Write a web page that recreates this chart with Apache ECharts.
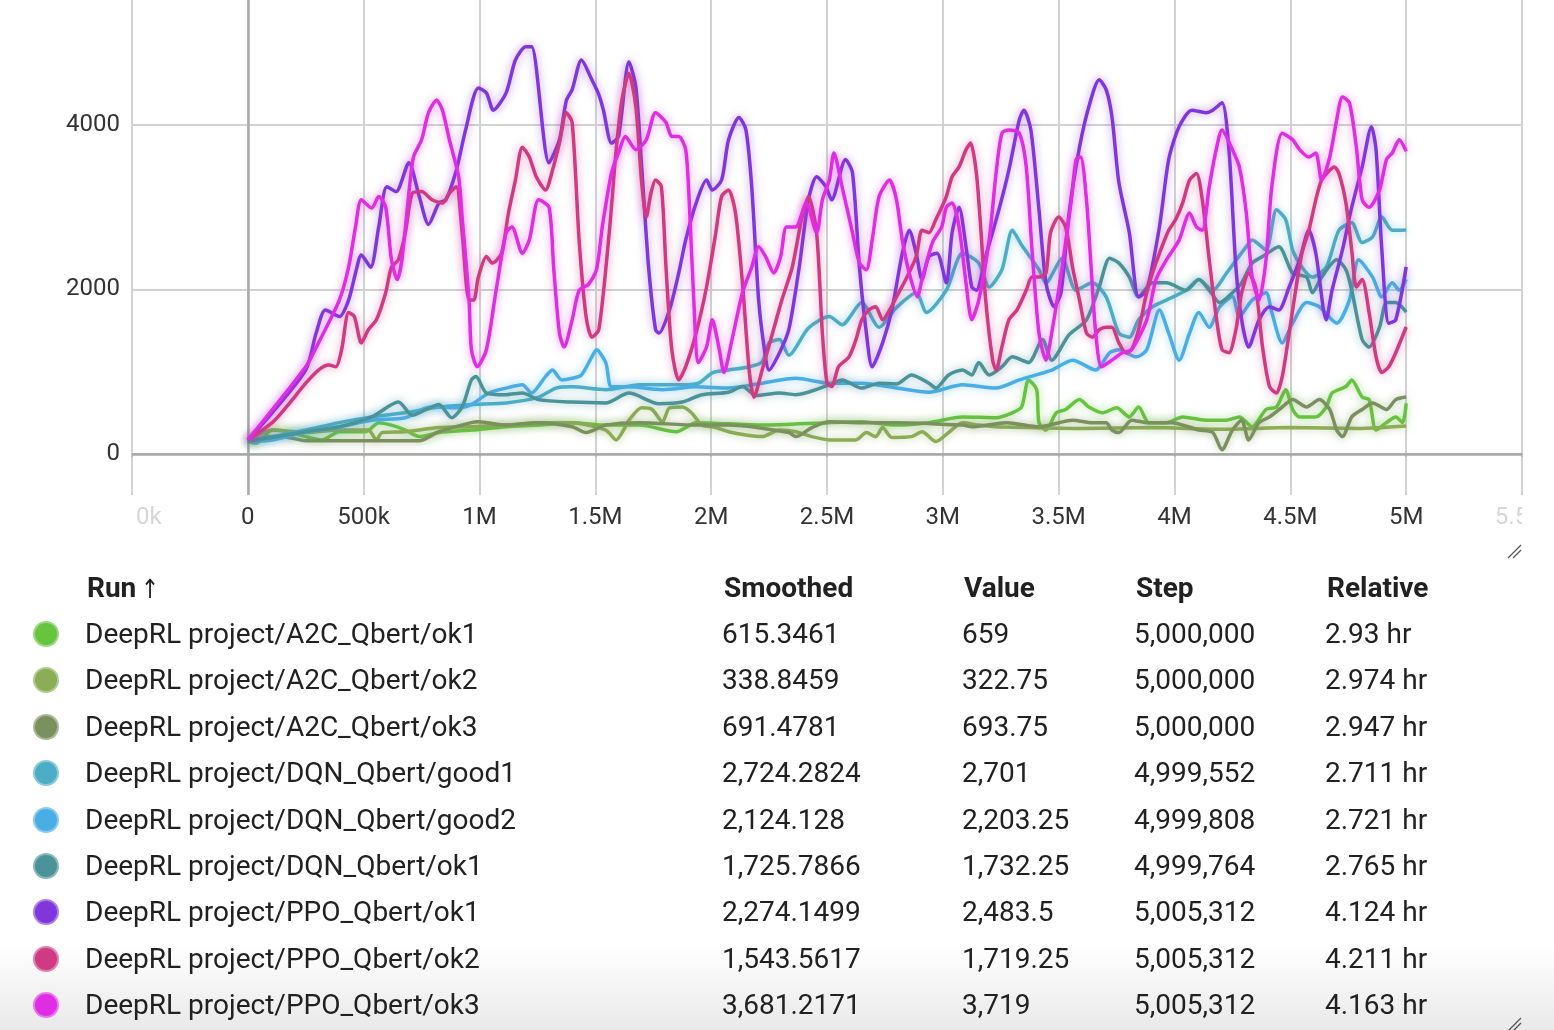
<!DOCTYPE html>
<html>
<head>
<meta charset="utf-8">
<script src="https://cdn.jsdelivr.net/npm/echarts@6/dist/echarts.min.js"></script>
<style>
html, body { margin: 0; padding: 0; }
body {
	width: 1554px; height: 1030px; position: relative; overflow: hidden;
	font-family: Roboto, 'Noto Sans', sans-serif; color: #212121;
	background: linear-gradient(to bottom, #fff 0px, #fff 945px, #e9e9e9 1030px);
}
#chart { position: absolute; left: 0; top: 0; width: 1554px; height: 1030px; }
#runs { position: absolute; left: 0; top: 0; width: 1554px; height: 1030px; }
.cell { position: absolute; font-size: 28px; line-height: 36px; white-space: nowrap; }
.hd { font-weight: 700; }
.arrow { display: inline-block; font-family: 'DejaVu Sans', sans-serif; font-size: 24px; font-weight: 400; margin-left: 4px; transform: scale(0.9, 1.1); }
.dot { position: absolute; width: 26px; height: 26px; border-radius: 50%; box-sizing: border-box; border: 2px solid rgba(255,255,255,0.35); }
</style>
</head>
<body>
<div id="chart"></div>
<div id="runs"></div>
<script>
// runs, in table order
var runNames = [
	'DeepRL project/A2C_Qbert/ok1',
	'DeepRL project/A2C_Qbert/ok2',
	'DeepRL project/A2C_Qbert/ok3',
	'DeepRL project/DQN_Qbert/good1',
	'DeepRL project/DQN_Qbert/good2',
	'DeepRL project/DQN_Qbert/ok1',
	'DeepRL project/PPO_Qbert/ok1',
	'DeepRL project/PPO_Qbert/ok2',
	'DeepRL project/PPO_Qbert/ok3'
];
var smoothedCol = ['615.3461', '338.8459', '691.4781', '2,724.2824', '2,124.128', '1,725.7866', '2,274.1499', '1,543.5617', '3,681.2171'];
var valueCol = ['659', '322.75', '693.75', '2,701', '2,203.25', '1,732.25', '2,483.5', '1,719.25', '3,719'];
var stepCol = ['5,000,000', '5,000,000', '5,000,000', '4,999,552', '4,999,808', '4,999,764', '5,005,312', '5,005,312', '5,005,312'];
var relativeCol = ['2.93 hr', '2.974 hr', '2.947 hr', '2.711 hr', '2.721 hr', '2.765 hr', '4.124 hr', '4.211 hr', '4.163 hr'];

var runColors = ['#66c43f', '#8aad55', '#7a915e', '#4caec6', '#4aaee6', '#4a9399', '#8136dc', '#cf3a82', '#e02de3'];

var xTicks = [-500, 5500, 500];   // min, max, step (k steps)
var yGrid = [0, 2000, 4000];

// [step in thousands, smoothed value]
var a2cOk1 = [[0,150],[35,130],[105,290],[175,270],[250,210],[320,170],[395,270],[510,270],[565,380],[620,350],[680,290],[740,210],[825,260],[965,290],[1115,330],[1255,350],[1400,380],[1545,350],[1690,350],[1850,270],[1935,380],[2220,350],[2510,380],[2650,390],[2800,350],[2940,380],[3085,450],[3230,440],[3300,500],[3340,570],[3370,900],[3405,780],[3415,380],[3445,290],[3490,500],[3530,540],[3590,660],[3630,570],[3690,500],[3750,560],[3805,450],[3845,570],[3890,380],[3965,380],[4035,450],[4135,410],[4225,410],[4280,450],[4335,330],[4395,540],[4440,570],[4480,780],[4510,540],[4540,450],[4610,450],[4655,570],[4680,740],[4740,820],[4765,900],[4810,690],[4840,660],[4870,290],[4915,380],[4955,450],[4985,380],[5000,615]];
var a2cOk2 = [[0,150],[105,290],[250,260],[395,290],[520,290],[555,170],[580,260],[680,270],[825,320],[965,330],[1115,350],[1255,380],[1400,380],[1545,290],[1590,170],[1630,330],[1645,410],[1700,560],[1745,540],[1790,390],[1820,560],[1875,570],[1915,500],[1960,350],[2020,320],[2075,270],[2150,230],[2220,210],[2295,290],[2365,270],[2435,210],[2510,170],[2625,170],[2670,260],[2710,210],[2740,320],[2780,200],[2865,210],[2910,270],[2970,150],[3025,260],[3085,380],[3155,350],[3230,330],[3370,320],[3600,310],[3900,320],[4200,300],[4500,320],[4800,310],[5000,339]];
var a2cOk3 = [[0,150],[105,210],[175,200],[250,160],[400,160],[540,160],[740,160],[825,270],[965,380],[995,390],[1115,350],[1255,380],[1400,330],[1460,260],[1545,350],[1690,380],[1935,350],[2075,350],[2335,260],[2365,210],[2435,320],[2510,390],[2650,380],[2800,380],[3085,350],[3125,330],[3275,380],[3415,330],[3560,410],[3645,380],[3705,380],[3730,290],[3760,260],[3815,410],[3880,380],[3990,380],[4105,290],[4165,260],[4205,50],[4250,290],[4290,410],[4320,170],[4365,380],[4410,450],[4465,570],[4510,660],[4570,570],[4625,660],[4670,540],[4700,290],[4725,210],[4765,450],[4810,540],[4855,620],[4915,540],[4955,660],[5000,691]];
var dqnGood1 = [[0,150],[105,210],[250,290],[395,380],[535,450],[680,500],[825,570],[965,600],[1115,620],[1255,690],[1330,800],[1400,815],[1545,780],[1690,840],[1860,840],[1945,860],[2005,985],[2075,1020],[2165,1060],[2220,1120],[2250,1350],[2295,1390],[2335,1200],[2420,1530],[2510,1670],[2565,1570],[2650,1840],[2725,1540],[2800,1780],[2885,1960],[2930,1720],[3015,1990],[3085,2440],[3155,2320],[3200,2030],[3255,2240],[3300,2720],[3340,2540],[3415,2240],[3445,2080],[3515,2380],[3575,1990],[3645,2080],[3705,1910],[3760,1470],[3805,1420],[3845,1630],[3905,1790],[3965,1870],[4050,1990],[4105,2120],[4165,1990],[4225,2200],[4310,2520],[4335,2600],[4395,2480],[4440,2970],[4480,2850],[4510,2480],[4550,2270],[4595,2150],[4655,2270],[4710,2720],[4765,2810],[4810,2570],[4855,2640],[4895,2880],[4940,2720],[5000,2724]];
var dqnGood2 = [[0,150],[105,170],[250,270],[395,330],[535,410],[680,440],[770,560],[825,570],[900,560],[965,600],[1040,740],[1115,800],[1185,840],[1225,740],[1285,940],[1315,1020],[1355,900],[1400,920],[1440,960],[1485,1180],[1505,1265],[1545,1110],[1570,815],[1645,815],[1790,780],[1935,815],[2075,800],[2220,860],[2365,920],[2510,860],[2650,860],[2800,800],[2940,750],[3085,840],[3230,800],[3330,900],[3470,1020],[3560,1140],[3660,1020],[3720,1230],[3760,1265],[3835,1180],[3880,1265],[3935,1750],[3975,1470],[4020,1140],[4065,1470],[4105,1720],[4150,1540],[4195,1790],[4250,1910],[4280,1670],[4335,1870],[4395,1960],[4420,1720],[4465,1350],[4510,1590],[4570,1840],[4625,1790],[4700,1590],[4755,1870],[4795,2360],[4855,2150],[4895,1910],[4940,2080],[4970,1990],[5000,2124]];
var dqnOk1 = [[0,150],[250,270],[395,330],[535,450],[650,630],[710,470],[770,540],[825,600],[880,440],[925,570],[965,900],[985,940],[1030,740],[1115,720],[1185,740],[1255,660],[1400,630],[1545,620],[1645,740],[1775,610],[1875,630],[1960,720],[2075,750],[2135,820],[2195,710],[2295,740],[2365,720],[2510,840],[2565,900],[2650,800],[2725,860],[2800,850],[2865,960],[2940,860],[2970,800],[3025,960],[3085,1020],[3125,960],[3155,1110],[3200,960],[3255,1060],[3300,1180],[3370,1110],[3430,1390],[3470,1140],[3545,1450],[3620,1630],[3675,2030],[3720,2380],[3760,2320],[3805,2150],[3845,1910],[3905,2080],[3965,2080],[4050,1990],[4105,2120],[4150,1990],[4195,1840],[4250,1960],[4290,2080],[4335,2320],[4380,2400],[4450,2520],[4510,2200],[4570,2150],[4595,1960],[4635,2150],[4700,2360],[4740,2240],[4765,1990],[4810,1390],[4840,1300],[4885,1540],[4915,1840],[4955,1840],[5000,1726]];
var ppoOk1 = [[0,170],[105,500],[250,1020],[295,1470],[335,1750],[395,1670],[435,1870],[465,2200],[490,2420],[530,2270],[565,2760],[600,3250],[640,3190],[695,3540],[740,3130],[780,2790],[825,3050],[855,3090],[900,3450],[940,3940],[995,4450],[1030,4390],[1060,4180],[1115,4390],[1155,4790],[1200,4950],[1225,4950],[1300,3540],[1345,3820],[1375,4300],[1400,4430],[1440,4790],[1485,4550],[1515,4370],[1535,4180],[1570,3780],[1600,3860],[1645,4770],[1675,4460],[1700,3490],[1730,2270],[1760,1510],[1775,1470],[1820,1750],[1860,2200],[1890,2600],[1935,3050],[1980,3330],[2005,3210],[2045,3330],[2075,3820],[2120,4090],[2150,3940],[2175,3250],[2205,1870],[2230,1270],[2250,1020],[2295,1230],[2335,1510],[2380,2270],[2420,3090],[2455,3370],[2495,3250],[2520,3090],[2580,3580],[2610,3420],[2640,2270],[2670,1470],[2695,1060],[2740,1350],[2780,1750],[2825,2440],[2855,2720],[2885,2440],[2910,2120],[2940,2400],[2975,2440],[3015,2080],[3040,2690],[3070,3000],[3100,2520],[3125,2030],[3145,1990],[3185,2400],[3245,3000],[3285,3450],[3330,4060],[3350,4180],[3380,3940],[3415,2970],[3445,2080],[3480,1790],[3510,1960],[3545,2930],[3590,3730],[3630,4220],[3675,4550],[3705,4430],[3730,4100],[3760,3300],[3805,2690],[3845,1910],[3880,1990],[3935,2760],[3975,3580],[4020,3980],[4075,4180],[4135,4150],[4165,4180],[4205,4270],[4235,3700],[4265,2270],[4290,1630],[4320,1300],[4365,1630],[4410,1790],[4450,1750],[4495,2030],[4540,2360],[4580,2720],[4610,2440],[4655,1630],[4680,1990],[4725,2480],[4765,3000],[4810,3490],[4850,3980],[4870,3700],[4895,2480],[4925,1590],[4955,1630],[5000,2274]];
var ppoOk2 = [[0,170],[105,380],[175,600],[250,860],[305,1020],[350,1080],[380,1060],[405,1270],[435,1720],[460,1670],[490,1350],[520,1510],[555,1630],[595,1960],[620,2270],[650,2360],[680,2690],[710,3170],[750,3190],[795,3090],[840,3050],[870,3170],[900,3250],[925,2690],[955,1870],[975,1870],[995,2150],[1030,2400],[1055,2320],[1095,2440],[1125,2930],[1155,3330],[1185,3730],[1215,3610],[1245,3370],[1285,3210],[1315,3450],[1345,3780],[1375,4150],[1400,4030],[1430,2600],[1460,1670],[1485,1420],[1515,1510],[1560,2690],[1590,3700],[1615,4310],[1645,4630],[1675,4220],[1700,3300],[1720,2880],[1740,3170],[1760,3330],[1785,3250],[1805,2270],[1830,1270],[1860,900],[1890,1060],[1935,1470],[1980,2030],[2020,2690],[2045,3130],[2075,3210],[2105,2930],[2135,2080],[2165,990],[2185,690],[2220,1020],[2265,1470],[2305,1870],[2350,2270],[2390,2850],[2420,3130],[2455,2690],[2480,1470],[2500,860],[2520,820],[2550,1060],[2595,1180],[2625,1390],[2650,1630],[2680,1750],[2710,1790],[2740,1630],[2770,1750],[2800,1910],[2840,2120],[2885,2400],[2910,2720],[2940,2690],[2970,2850],[3015,3130],[3040,3370],[3070,3490],[3100,3700],[3120,3780],[3145,3410],[3165,2690],[3185,1870],[3215,1140],[3230,1020],[3255,1300],[3285,1630],[3320,1750],[3360,1990],[3385,2150],[3415,2150],[3445,2200],[3465,2690],[3500,2880],[3530,2760],[3560,2270],[3590,1870],[3620,1470],[3645,1420],[3675,1510],[3705,1540],[3730,1540],[3760,1350],[3790,1230],[3815,1270],[3845,1510],[3880,1960],[3905,2200],[3935,2440],[3975,2720],[4005,2850],[4035,3050],[4065,3330],[4095,3410],[4120,3090],[4150,2360],[4180,1670],[4205,1270],[4235,1230],[4265,1510],[4280,1790],[4290,1960],[4320,2200],[4350,2030],[4380,1300],[4410,820],[4440,740],[4465,940],[4495,1470],[4525,2030],[4550,2440],[4580,2720],[4610,3090],[4635,3330],[4670,3450],[4690,3490],[4710,3410],[4740,3050],[4765,2480],[4785,2030],[4810,2120],[4840,1720],[4870,1180],[4895,990],[4925,1060],[4955,1230],[5000,1543]];
var ppoOk3 = [[0,170],[250,1060],[305,1350],[395,1870],[435,2270],[465,2760],[490,3090],[535,2990],[565,3130],[595,3000],[620,2360],[645,2120],[665,2360],[695,3170],[715,3610],[750,3820],[780,4150],[815,4300],[840,4180],[870,3820],[910,3370],[925,2880],[955,1870],[965,1270],[990,1060],[1030,1270],[1070,1960],[1115,2690],[1140,2760],[1185,2440],[1215,2600],[1255,3090],[1300,3000],[1320,2270],[1345,1470],[1365,1300],[1400,1630],[1430,1990],[1470,2060],[1505,2240],[1530,2760],[1570,3420],[1600,3660],[1630,3860],[1675,3700],[1720,3820],[1760,4150],[1805,4030],[1830,3860],[1860,3860],[1890,3700],[1905,3090],[1925,1870],[1945,1110],[1980,1300],[2005,1630],[2035,1270],[2055,990],[2090,1390],[2135,1960],[2175,2270],[2205,2520],[2235,2400],[2270,2200],[2300,2400],[2325,2760],[2365,2760],[2410,3050],[2455,2690],[2480,3090],[2510,3330],[2530,3660],[2565,3250],[2610,2690],[2640,2320],[2670,2240],[2695,2600],[2725,3130],[2770,3330],[2800,3090],[2825,2600],[2855,2200],[2890,1910],[2910,2120],[2955,2570],[2995,2760],[3015,3000],[3040,3050],[3070,2760],[3100,2080],[3125,1630],[3155,1870],[3200,2600],[3230,3420],[3255,3900],[3285,3940],[3330,3900],[3360,3490],[3385,2480],[3415,1470],[3445,1140],[3470,1470],[3515,2270],[3555,3090],[3575,3580],[3595,3610],[3620,3090],[3640,2270],[3660,1470],[3685,1060],[3730,1140],[3775,1230],[3815,1270],[3880,1630],[3920,2120],[3965,2360],[4020,2600],[4065,2930],[4095,2760],[4120,2720],[4150,3250],[4180,3700],[4205,3940],[4250,3700],[4280,3490],[4310,2930],[4335,2150],[4365,1870],[4395,2360],[4420,3250],[4465,3900],[4510,3820],[4540,3700],[4580,3610],[4610,3660],[4635,3330],[4670,3610],[4700,4060],[4725,4340],[4755,4270],[4785,3730],[4810,3090],[4840,3000],[4885,3210],[4915,3580],[4940,3660],[4970,3820],[5000,3681]];

var runData = [a2cOk1, a2cOk2, a2cOk3, dqnGood1, dqnGood2, dqnOk1, ppoOk1, ppoOk2, ppoOk3];

function fade(hex, a) {
	var n = parseInt(hex.slice(1), 16);
	return 'rgba(' + (n >> 16) + ',' + ((n >> 8) & 255) + ',' + (n & 255) + ',' + a + ')';
}

function stepLabel(v) {
	if (v === 0) return '0';
	if (Math.abs(v) < 1000) return v + 'k';
	return (v / 1000) + 'M';
}

var series = [];
for (var i = 0; i < runNames.length; i++) {
	series.push({
		name: runNames[i],
		type: 'line',
		data: runData[i],
		showSymbol: false,
		smooth: 0.25,
		z: 3,
		lineStyle: {
			color: runColors[i],
			width: 3.5,
			shadowColor: fade(runColors[i], 0.55),
			shadowBlur: 8
		}
	});
}
// grid lines for the y axis and the zero step line
series[0].markLine = {
	silent: true,
	symbol: 'none',
	z: 1,
	animation: false,
	label: { show: false },
	data: yGrid.map(function (v) {
		return { yAxis: v, lineStyle: { type: 'solid', color: v === 0 ? '#a9a9a9' : '#d2d2d2', width: v === 0 ? 2.5 : 2 } };
	}).concat([{ xAxis: 0, lineStyle: { type: 'solid', color: '#a9a9a9', width: 2.5 } }])
};

var myChart = echarts.init(document.getElementById('chart'));
var option = {
	animation: false,
	grid: { left: 132, right: 32, top: 0, bottom: 535 },
	xAxis: {
		type: 'value',
		min: xTicks[0],
		max: xTicks[1],
		interval: xTicks[2],
		axisLine: { show: true, lineStyle: { color: '#bdbdbd', width: 2 } },
		axisTick: { show: true, length: 3, lineStyle: { color: '#bdbdbd', width: 2 } },
		splitLine: { show: true, lineStyle: { color: '#d2d2d2', width: 2 } },
		axisLabel: {
			margin: 11,
			fontFamily: 'Roboto',
			fontSize: 24,
			color: '#333',
			formatter: function (v) {
				if (v === xTicks[0] || v === xTicks[1]) return '{f|' + stepLabel(v) + '}';
				return stepLabel(v);
			},
			rich: { f: { color: '#d6d6d6', fontFamily: 'Roboto', fontSize: 24 } }
		}
	},
	yAxis: {
		type: 'value',
		min: -500,
		max: 5520,
		interval: 500,
		axisLine: { show: false },
		axisTick: { show: false },
		splitLine: { show: false },
		axisLabel: {
			margin: 12,
			fontFamily: 'Roboto',
			fontSize: 24,
			color: '#333',
			formatter: function (v) { return yGrid.indexOf(v) >= 0 ? String(v) : ''; }
		}
	},
	graphic: [
		{ type: 'rect', z: 100, shape: { x: 0, y: 500, width: 137, height: 40 }, style: { fill: '#fff' } },
		{ type: 'rect', z: 100, shape: { x: 1522, y: 500, width: 40, height: 40 }, style: { fill: '#fff' } },
		{ type: 'line', z: 100, shape: { x1: 1508, y1: 558, x2: 1521, y2: 545 }, style: { stroke: '#555', lineWidth: 1.3 } },
		{ type: 'line', z: 100, shape: { x1: 1513, y1: 558, x2: 1521, y2: 550 }, style: { stroke: '#555', lineWidth: 1.3 } },
		{ type: 'line', z: 100, shape: { x1: 1508, y1: 1031, x2: 1521, y2: 1018 }, style: { stroke: '#555', lineWidth: 1.3 } },
		{ type: 'line', z: 100, shape: { x1: 1513, y1: 1031, x2: 1521, y2: 1023 }, style: { stroke: '#555', lineWidth: 1.3 } }
	],
	series: series
};
myChart.setOption(option);

// run table under the chart
var runs = document.getElementById('runs');
function cell(text, x, cy, cls) {
	var d = document.createElement('div');
	d.className = 'cell' + (cls ? ' ' + cls : '');
	d.style.left = x + 'px';
	d.style.top = (cy - 18) + 'px';
	d.innerHTML = text;
	runs.appendChild(d);
}
cell('Run<span class="arrow">&#8593;</span>', 87, 588, 'hd');
cell('Smoothed', 724, 588, 'hd');
cell('Value', 964, 588, 'hd');
cell('Step', 1136, 588, 'hd');
cell('Relative', 1327, 588, 'hd');
for (var r = 0; r < runNames.length; r++) {
	var cy = 634 + r * 46.4;
	var dot = document.createElement('div');
	dot.className = 'dot';
	dot.style.left = (46 - 13) + 'px';
	dot.style.top = (cy - 13) + 'px';
	dot.style.background = runColors[r];
	runs.appendChild(dot);
	cell(runNames[r], 85, cy);
	cell(smoothedCol[r], 722, cy);
	cell(valueCol[r], 962, cy);
	cell(stepCol[r], 1134, cy);
	cell(relativeCol[r], 1325, cy);
}
</script>
</body>
</html>
